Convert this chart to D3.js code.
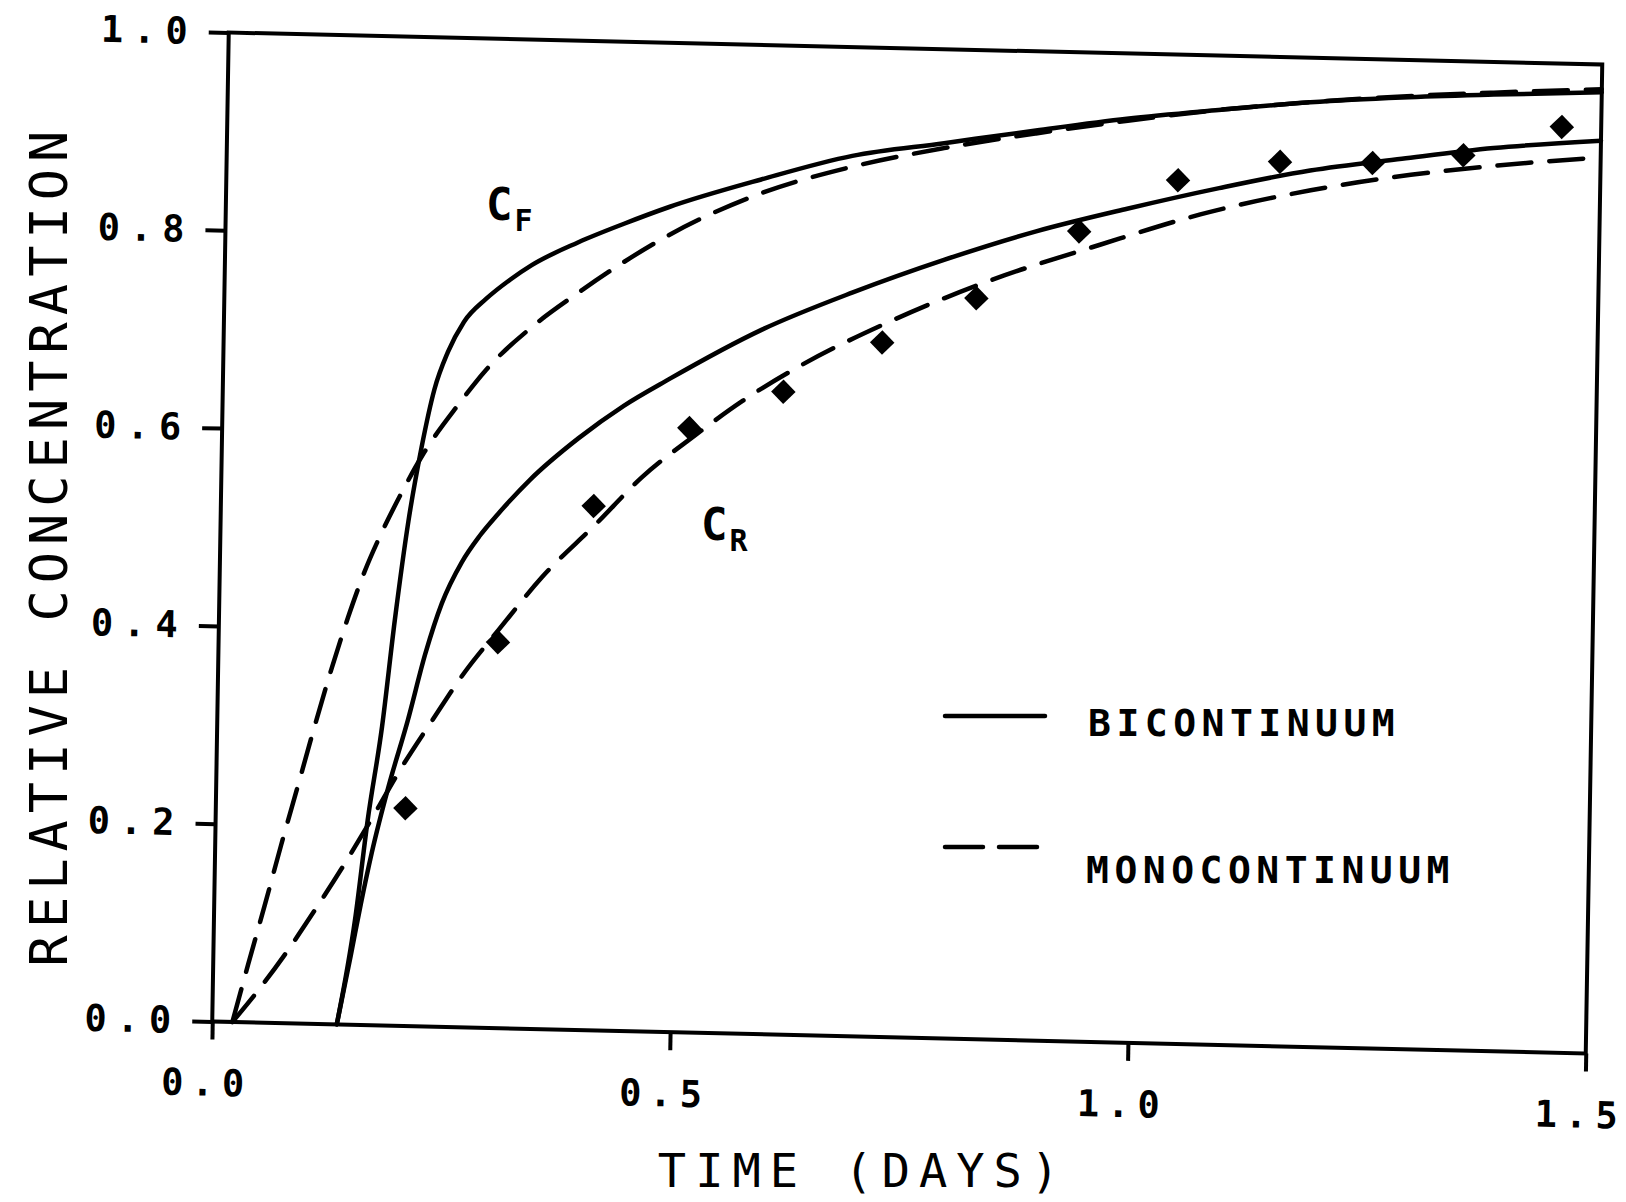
<!DOCTYPE html>
<html><head><meta charset="utf-8">
<script src="https://cdn.jsdelivr.net/npm/d3@7"></script>
<style>
html,body{margin:0;padding:0;background:#fff;}
svg{display:block;}
</style></head>
<body><div id="chart"></div>
<script>
// ---- data (time in days, relative concentration) ----
const xTicks = [0, 0.5, 1.0, 1.5];
const yTicks = [0, 0.2, 0.4, 0.6, 0.8, 1.0];

// Bicontinuum, fracture (C_F) - solid
const biFracT = [0.136,0.154,0.166,0.18,0.192,0.205,0.218,0.231,0.245,0.262,0.286,0.312,0.335,0.385,0.435,0.484,0.584,0.683,0.783,0.883,0.982,1.082,1.182,1.282,1.382,1.5];
const biFracC = [0,0.106,0.207,0.302,0.41,0.51,0.585,0.644,0.682,0.713,0.737,0.757,0.772,0.796,0.816,0.834,0.864,0.89,0.905,0.92,0.934,0.945,0.955,0.962,0.967,0.972];

// Monocontinuum, fracture (C_F) - dashed
const monoFracT = [0.022,0.038,0.055,0.072,0.09,0.107,0.124,0.141,0.158,0.176,0.195,0.219,0.258,0.287,0.337,0.386,0.435,0.485,0.584,0.683,0.783,0.883,0.983,1.082,1.182,1.282,1.382,1.5];
const monoFracC = [0,0.058,0.118,0.18,0.243,0.303,0.36,0.412,0.458,0.498,0.535,0.577,0.63,0.665,0.71,0.745,0.777,0.806,0.85,0.879,0.9,0.917,0.932,0.945,0.955,0.963,0.969,0.975];

// Bicontinuum, rock (C_R) - solid
const biRockT = [0.136,0.15,0.16,0.171,0.188,0.208,0.226,0.243,0.264,0.283,0.303,0.337,0.389,0.438,0.487,0.587,0.686,0.785,0.885,0.984,1.084,1.183,1.283,1.383,1.5];
const biRockC = [0,0.07,0.122,0.174,0.241,0.309,0.377,0.428,0.47,0.497,0.52,0.555,0.598,0.632,0.66,0.712,0.752,0.787,0.818,0.843,0.866,0.886,0.9,0.913,0.923];

// Monocontinuum, rock (C_R) - dashed
const monoRockT = [0.022,0.05,0.08,0.11,0.14,0.17,0.2,0.235,0.27,0.305,0.352,0.41,0.459,0.518,0.568,0.627,0.726,0.835,0.955,1.064,1.184,1.293,1.383,1.5];
const monoRockC = [0,0.033,0.072,0.115,0.16,0.208,0.258,0.31,0.36,0.402,0.457,0.512,0.56,0.605,0.64,0.675,0.723,0.767,0.806,0.839,0.866,0.884,0.895,0.906];

// Observed data (diamonds)
const obsT = [0.207,0.305,0.407,0.51,0.612,0.719,0.821,0.932,1.039,1.15,1.251,1.35,1.457];
const obsC = [0.22,0.39,0.53,0.611,0.65,0.702,0.749,0.819,0.873,0.894,0.895,0.905,0.936];

const legendLabels = ["BICONTINUUM", "MONOCONTINUUM"];

// ---- drawing ----
const W = 1626, H = 1202;
const left = 212.25, bottom = 1021.5, plotW = 1373.5, plotH = 989;
const INK = "#000";
const MONO = "'DejaVu Sans Mono', 'Liberation Mono', monospace";

const svg = d3.select('#chart').append('svg').attr('width', W).attr('height', H);
svg.append('rect').attr('width', W).attr('height', H).attr('fill', '#fff');

const x = d3.scaleLinear().domain([0, 1.5]).range([left, left + plotW]);
const y = d3.scaleLinear().domain([0, 1]).range([bottom, bottom - plotH]);

// slight skew of the scanned original
const g = svg.append('g')
  .attr('transform', `translate(${left},${bottom}) matrix(1,0.0233,-0.01668,1,0,0) translate(${-left},${-bottom})`);

// frame
g.append('rect')
  .attr('x', x(0)).attr('y', y(1))
  .attr('width', x(1.5) - x(0)).attr('height', y(0) - y(1))
  .attr('fill', 'none').attr('stroke', INK).attr('stroke-width', 4);

const fmt = d3.format('.1f');
const xAxis = d3.axisBottom(x).tickValues(xTicks).tickFormat(fmt)
  .tickSizeInner(18).tickSizeOuter(0).tickPadding(30);
const yAxis = d3.axisLeft(y).tickValues(yTicks).tickFormat(fmt)
  .tickSizeInner(20).tickSizeOuter(0).tickPadding(11);

const gx = g.append('g').attr('transform', `translate(0,${bottom})`).call(xAxis);
const gy = g.append('g').attr('transform', `translate(${left},0)`).call(yAxis);
[gx, gy].forEach(ax => {
  ax.select('.domain').remove();
  ax.selectAll('.tick line').attr('stroke', INK).attr('stroke-width', 4);
  ax.selectAll('.tick text')
    .attr('fill', INK)
    .style('font-family', MONO).style('font-weight', 'bold')
    .style('font-size', '37px').style('letter-spacing', '10px');
});
gx.selectAll('.tick text').style('letter-spacing', '8px').attr('dx', -5);

// curves
const line = d3.line().x(d => x(d[0])).y(d => y(d[1])).curve(d3.curveMonotoneX);
const curves = [
  {t: biFracT, c: biFracC, dash: null},
  {t: monoFracT, c: monoFracC, dash: '34,18'},
  {t: biRockT, c: biRockC, dash: null},
  {t: monoRockT, c: monoRockC, dash: '34,18'}
];
curves.forEach(cv => {
  const pts = cv.t.map((t, i) => [t, cv.c[i]]);
  g.append('path').attr('d', line(pts))
    .attr('fill', 'none').attr('stroke', INK).attr('stroke-width', 4.5)
    .attr('stroke-linecap', 'round').attr('stroke-linejoin', 'round')
    .attr('stroke-dasharray', cv.dash);
});

// observed diamonds
const diamond = d3.symbol(d3.symbolSquare, 300);
g.selectAll('path.obs').data(obsT.map((t, i) => [t, obsC[i]])).enter()
  .append('path').attr('class', 'obs')
  .attr('d', diamond())
  .attr('transform', d => `translate(${x(d[0])},${y(d[1])}) rotate(45)`)
  .attr('fill', INK);

// curve labels C_F, C_R
function subLabel(px, py, main, sub) {
  const t = svg.append('text').attr('x', px).attr('y', py)
    .attr('fill', INK).style('font-family', MONO).style('font-weight', 'bold');
  t.append('tspan').text(main).style('font-size', '44px');
  t.append('tspan').attr('dy', 11).attr('dx', 2).text(sub).style('font-size', '30px');
}
subLabel(486, 220, 'C', 'F');
subLabel(701, 540, 'C', 'R');

// legend
const legY = [716, 847];
svg.append('line').attr('x1', 945).attr('x2', 1045).attr('y1', legY[0]).attr('y2', legY[0])
  .attr('stroke', INK).attr('stroke-width', 4.5).attr('stroke-linecap', 'round');
svg.append('line').attr('x1', 945).attr('x2', 1037).attr('y1', legY[1]).attr('y2', legY[1])
  .attr('stroke', INK).attr('stroke-width', 4.5).attr('stroke-linecap', 'round')
  .attr('stroke-dasharray', '38,16');
svg.append('text').attr('x', 1088).attr('y', 736).text(legendLabels[0])
  .attr('fill', INK).style('font-family', MONO).style('font-weight', 'bold')
  .style('font-size', '38px').style('letter-spacing', '5.5px');
svg.append('text').attr('x', 1086).attr('y', 883).text(legendLabels[1])
  .attr('fill', INK).style('font-family', MONO).style('font-weight', 'bold')
  .style('font-size', '38px').style('letter-spacing', '5.5px');

// axis titles
svg.append('text').attr('x', 863).attr('y', 1187).attr('text-anchor', 'middle')
  .text('TIME (DAYS)').attr('fill', INK)
  .style('font-family', MONO).style('font-size', '47px').style('letter-spacing', '9px');
svg.append('text').attr('transform', 'translate(67,545) rotate(-90)').attr('text-anchor', 'middle')
  .text('RELATIVE CONCENTRATION').attr('fill', INK)
  .style('font-family', MONO).style('font-size', '52px').style('letter-spacing', '7px');
</script>
</body></html>
